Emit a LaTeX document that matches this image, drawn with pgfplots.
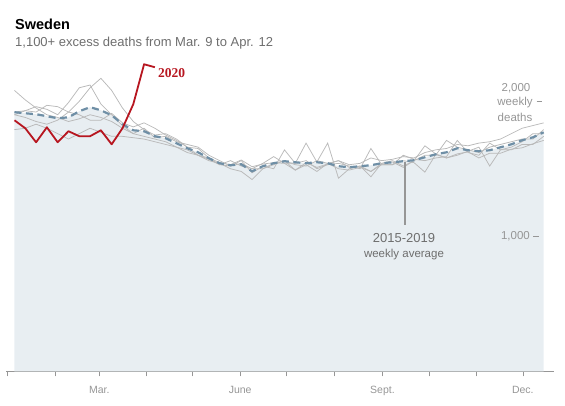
\documentclass[border=0pt]{standalone}
\usepackage{pgfplots}
\usepackage{pgfplotstable}
\pgfplotsset{compat=1.18}
\usepackage{fontspec}
\setmainfont{Liberation Sans}
\newfontfamily\serifb{Liberation Serif}
\definecolor{fillc}{RGB}{232,238,242}
\definecolor{greyl}{RGB}{185,185,185}
\definecolor{avgc}{RGB}{111,143,166}
\definecolor{redc}{RGB}{183,22,32}
\definecolor{txtg}{RGB}{110,110,110}
\definecolor{axg}{RGB}{150,150,150}

\pgfplotstableread{
w avg s1 s2 s3 s4 s5
1 1919 2080 1900 1920 1790 1900
2 1911 2010 1880 1930 1800 1930
3 1904 1950 1850 1960 1830 1920
4 1889 1900 1830 1940 1800 1970
5 1874 1880 1860 1900 1760 1960
6 1881 1850 1920 1990 1720 1920
7 1926 1870 2000 2100 1760 1900
8 1956 1900 2100 2120 1800 1860
9 1933 1880 2170 1980 1770 1860
10 1896 1850 2080 1900 1740 1910
11 1830 1800 1950 1820 1740 1840
12 1785 1760 1850 1760 1730 1810
13 1778 1740 1790 1800 1720 1840
14 1741 1720 1750 1730 1700 1800
15 1726 1700 1760 1740 1680 1750
16 1689 1660 1720 1700 1660 1710
17 1652 1640 1660 1680 1620 1660
18 1622 1600 1600 1660 1600 1650
19 1578 1560 1570 1600 1580 1580
20 1541 1540 1530 1560 1530 1545
21 1526 1500 1560 1520 1520 1530
22 1533 1480 1520 1560 1540 1565
23 1481 1420 1500 1470 1500 1515
24 1519 1500 1540 1520 1500 1535
25 1541 1540 1590 1500 1530 1545
26 1556 1560 1540 1640 1560 1540
27 1548 1530 1540 1540 1490 1490
28 1541 1520 1690 1560 1530 1545
29 1548 1560 1550 1500 1480 1510
30 1541 1540 1690 1530 1540 1535
31 1519 1560 1430 1540 1500 1560
32 1511 1530 1500 1520 1490 1510
33 1519 1540 1520 1500 1510 1520
34 1526 1580 1440 1650 1480 1480
35 1541 1560 1540 1530 1540 1530
36 1548 1570 1560 1530 1550 1530
37 1556 1590 1520 1600 1510 1560
38 1563 1580 1560 1570 1560 1545
39 1585 1620 1600 1560 1670 1475
40 1607 1640 1600 1580 1610 1605
41 1622 1650 1710 1590 1580 1580
42 1652 1680 1660 1710 1600 1610
43 1637 1670 1640 1620 1630 1625
44 1630 1690 1620 1600 1660 1580
45 1637 1700 1660 1690 1520 1615
46 1659 1720 1680 1640 1640 1615
47 1681 1760 1700 1660 1640 1645
48 1711 1800 1720 1700 1680 1655
49 1733 1820 1720 1760 1680 1685
50 1770 1840 1790 1760 1740 1710
}\hist

\pgfplotstableread{
w d
1 1859
2 1800
3 1696
4 1807
5 1696
6 1778
7 1741
8 1741
9 1785
10 1681
11 1800
12 1978
13 2274
14 2252
}\yr

\begin{document}
\begin{tikzpicture}[x=1pt,y=1pt]
\useasboundingbox (0,0) rectangle (565,405);
\begin{axis}[
  at={(6,25)}, anchor=south west,
  width=548pt, height=337.5pt, scale only axis,
  xmin=0.2593, xmax=51, ymin=0, ymax=2500,
  axis x line=bottom, axis y line=none,
  x axis line style={-, color=axg, line width=0.6pt},
  xtick={0.357,4.79,8.86,13.2,17.5,21.9,26.2,30.6,35.07,39.4,43.8,48.07},
  xticklabels={,,Mar.,,,June,,,Sept.,,,Dec.},
  tick style={color=axg, line width=0.6pt},
  tick align=outside, major tick length=5pt,
  xticklabel style={font=\fontsize{10.5}{12}\selectfont, text=axg, yshift=-6pt},
  clip=false,
]
\addplot[fill=fillc, draw=none] table[x=w, y=avg] {\hist} \closedcycle;
\addplot[greyl, line width=0.75pt] table[x=w, y=s1] {\hist};
\addplot[greyl, line width=0.75pt] table[x=w, y=s2] {\hist};
\addplot[greyl, line width=0.75pt] table[x=w, y=s3] {\hist};
\addplot[greyl, line width=0.75pt] table[x=w, y=s4] {\hist};
\addplot[greyl, line width=0.75pt] table[x=w, y=s5] {\hist};
\addplot[avgc, line width=2.2pt, dash pattern=on 7pt off 4.5pt] table[x=w, y=avg] {\hist};
\addplot[redc, line width=1.8pt, line join=round] table[x=w, y=d] {\yr};
\end{axis}
% annotations
\node[anchor=west, inner sep=0] at (15,381) {\bfseries\fontsize{14.5}{16}\selectfont Sweden};
\node[anchor=west, inner sep=0, text=txtg] at (15,362) {\fontsize{13}{15}\selectfont 1,100+ excess deaths from Mar. 9 to Apr. 12};
\node[anchor=west, inner sep=0, text=redc] at (158,332) {\serifb\bfseries\fontsize{13.5}{15}\selectfont 2020};
\draw[axg, line width=1.2pt] (405,243) -- (405,180);
\node[inner sep=0, text=txtg] at (404,167) {\fontsize{13}{15}\selectfont 2015-2019};
\node[inner sep=0, text=txtg] at (404,150) {\fontsize{11.5}{13}\selectfont weekly average};
\node[inner sep=0, text=axg] at (516,317) {\fontsize{11.5}{13}\selectfont 2,000};
\node[inner sep=0, text=axg] at (515,302) {\fontsize{11.5}{13}\selectfont weekly};
\node[inner sep=0, text=axg] at (515,288) {\fontsize{11.5}{13}\selectfont deaths};
\draw[axg, line width=0.6pt] (536.5,304) -- (542,304);
\node[anchor=east, inner sep=0, text=axg] at (530,169) {\fontsize{11.5}{13}\selectfont 1,000};
\draw[axg, line width=0.6pt] (533,169) -- (539,169);
\end{tikzpicture}
\end{document}
